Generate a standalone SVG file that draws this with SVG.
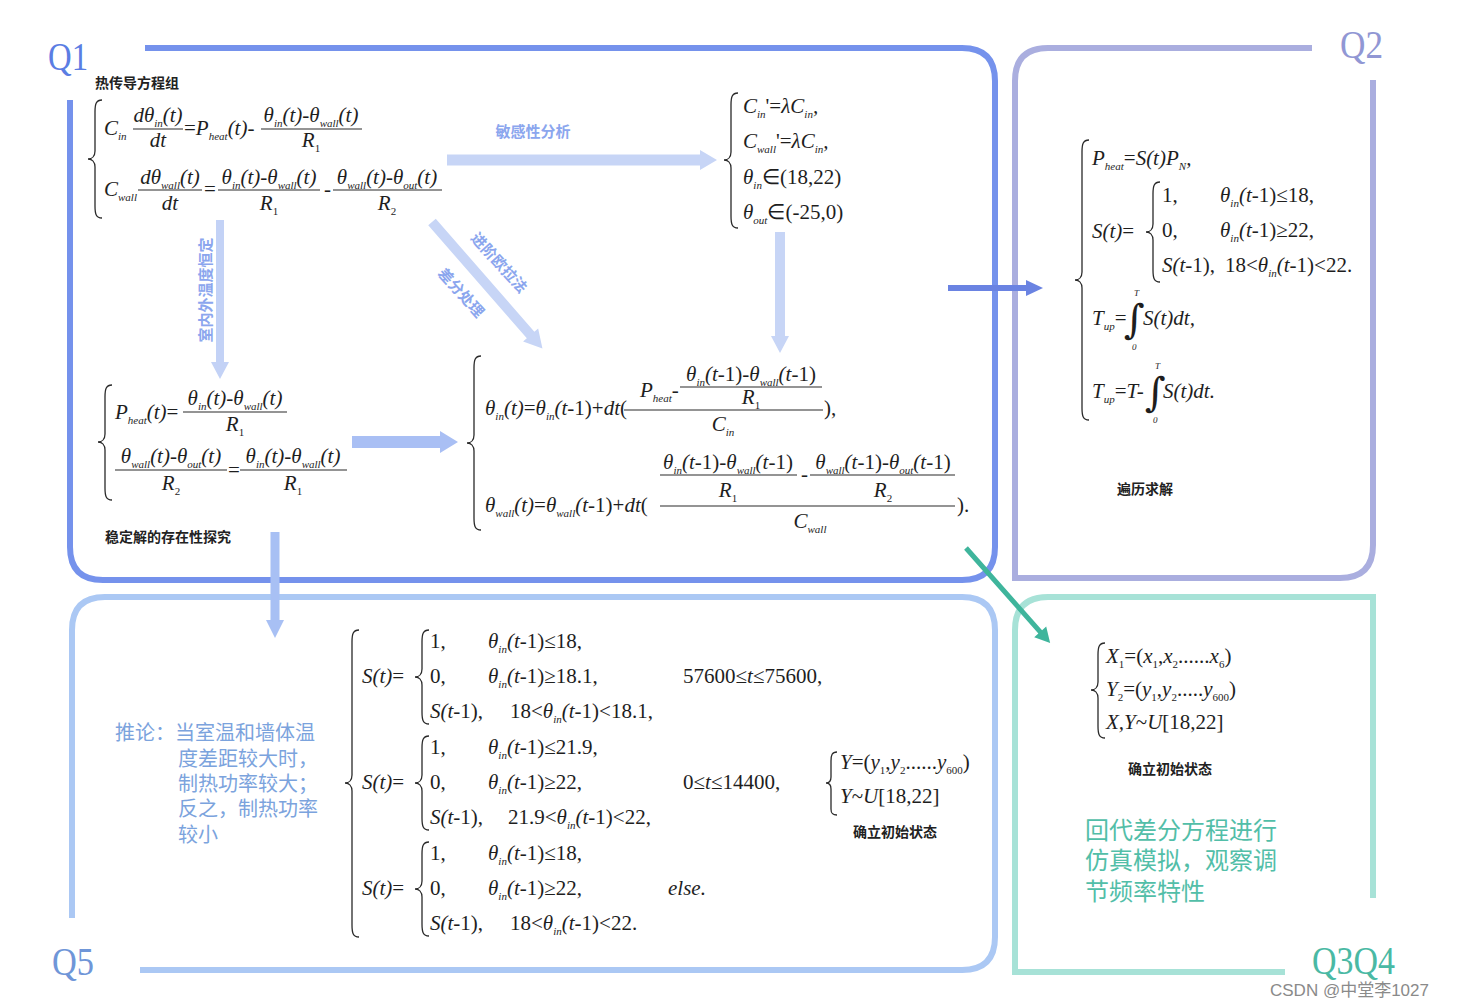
<svg xmlns="http://www.w3.org/2000/svg" width="1457" height="1008" viewBox="0 0 1457 1008">
<defs>
<style>
.m{font-family:"Liberation Serif","Times New Roman",serif;font-size:21px;font-style:italic;fill:#1e1e1e}
.u{font-style:normal}
.sb{font-size:11px}
.lim{font-family:"Liberation Serif",serif;font-size:9px;font-style:italic;fill:#1e1e1e}
.int{font-family:"DejaVu Serif",serif;font-size:40px;fill:#1e1e1e}
.bar{stroke:#2a2a2a;stroke-width:1.2}
.br{fill:none;stroke:#2a2a2a;stroke-width:1.3}
.cn{font-family:"Noto Sans CJK SC","Noto Sans",sans-serif;font-weight:bold;font-size:14px;fill:#222}
.fr{fill:none;stroke-width:6}
.ql{font-family:"Liberation Serif","Times New Roman",serif;font-size:40px}
.al{font-family:"Noto Sans CJK SC",sans-serif;font-weight:bold;font-size:15px;fill:#8ba6ee}
</style>
</defs>
<rect width="1457" height="1008" fill="#ffffff"/>

<g id="frame-q1">
<path class="fr" stroke="#7592ec" d="M145,48 H962 Q995,48 995,81 V547 Q995,580 962,580 H103 Q70,580 70,547 V100"/>
<text class="ql" x="48" y="70" fill="#5b7de3" textLength="40" lengthAdjust="spacingAndGlyphs">Q1</text>
</g>
<g id="frame-q2">
<path class="fr" stroke="#aaaedf" d="M1312,48 H1048 Q1015,48 1015,81 V578 H1340 Q1373,578 1373,545 V80"/>
<text class="ql" x="1340" y="58" fill="#9197d4" textLength="43" lengthAdjust="spacingAndGlyphs">Q2</text>
</g>
<g id="frame-q5">
<path class="fr" stroke="#abc8f4" d="M72,918 V630 Q72,597 105,597 H962 Q995,597 995,630 V937 Q995,970 962,970 H140"/>
<text class="ql" x="52" y="975" fill="#6f96d8" textLength="42" lengthAdjust="spacingAndGlyphs">Q5</text>
</g>
<g id="frame-q3q4">
<path class="fr" stroke="#a7e2d7" d="M1285,972 H1015 V630 Q1015,597 1048,597 H1373 V898"/>
<text class="ql" x="1312" y="974" fill="#4ab9a4" textLength="83" lengthAdjust="spacingAndGlyphs">Q3Q4</text>
</g>

<g id="connectors">
<path d="M447,154.5 H700 V150 L717,160 L700,170 V165.5 H447 Z" fill="#c7d5f6"/>
<path d="M216,220 V362 H211 L220,379 L229,362 H224 V220 Z" fill="#c3d2f6"/>
<path d="M0,-5 H150 V-10 L168,0 L150,10 V5 H0 Z" transform="translate(432,222) rotate(48.9)" fill="#c7d5f6"/>
<path d="M775,232 V336 H771 L780,353 L789,336 H785 V232 Z" fill="#c7d5f6"/>
<path d="M352,436 H440 V431 L458,442 L440,453 V448 H352 Z" fill="#a9bff4"/>
<path d="M948,285 H1026 V280 L1043,288 L1026,296 V291 H948 Z" fill="#6a83e2"/>
<path d="M270.5,532 V620 H266 L275,638 L284,620 H279.5 V532 Z" fill="#a8c0f4"/>
<path d="M0,-2.5 H112 V-8 L127,0 L112,8 V2.5 H0 Z" transform="translate(966,548) rotate(48.5)" fill="#3fb59c"/>
<text class="al" x="533" y="137" text-anchor="middle">敏感性分析</text>
<text class="al" x="0" y="0" text-anchor="middle" dominant-baseline="central" transform="translate(204,290) rotate(-90)" fill="#93aef0">室内外温度恒定</text>
<text class="al" x="0" y="0" text-anchor="middle" dominant-baseline="central" transform="translate(500,262) rotate(48)">进阶欧拉法</text>
<text class="al" x="0" y="0" text-anchor="middle" dominant-baseline="central" transform="translate(462,292) rotate(48)">差分处理</text>
</g>

<g id="node-heat">
<text class="cn" x="95" y="88">热传导方程组</text>
<path class="br" d="M102,100 C96,100 95,104 95,112 L95,151 C95,156 92,159 88,159 C92,159 95,162 95,167 L95,206 C95,214 96,218 102,218"/>
<text class="m" x="104" y="135">C<tspan class="sb" dy="5">in</tspan></text>
<text class="m" x="158" y="122" text-anchor="middle">dθ<tspan class="sb" dy="5">in</tspan><tspan dy="-5">(t)</tspan></text>
<line class="bar" x1="133" y1="129" x2="183" y2="129"/>
<text class="m" x="158" y="147" text-anchor="middle">dt</text>
<text class="m" x="184" y="135"><tspan class="u">=</tspan>P<tspan class="sb" dy="5">heat</tspan><tspan dy="-5">(t)-</tspan></text>
<text class="m" x="311" y="122" text-anchor="middle">θ<tspan class="sb" dy="5">in</tspan><tspan dy="-5">(t)-θ</tspan><tspan class="sb" dy="5">wall</tspan><tspan dy="-5">(t)</tspan></text>
<line class="bar" x1="261" y1="129" x2="362" y2="129"/>
<text class="m" x="311" y="147" text-anchor="middle">R<tspan class="sb u" dy="5">1</tspan></text>
<text class="m" x="104" y="196">C<tspan class="sb" dy="5">wall</tspan></text>
<text class="m" x="170" y="184" text-anchor="middle">dθ<tspan class="sb" dy="5">wall</tspan><tspan dy="-5">(t)</tspan></text>
<line class="bar" x1="138" y1="190" x2="202" y2="190"/>
<text class="m" x="170" y="210" text-anchor="middle">dt</text>
<text class="m u" x="204" y="196">=</text>
<text class="m" x="269" y="184" text-anchor="middle">θ<tspan class="sb" dy="5">in</tspan><tspan dy="-5">(t)-θ</tspan><tspan class="sb" dy="5">wall</tspan><tspan dy="-5">(t)</tspan></text>
<line class="bar" x1="218" y1="190" x2="320" y2="190"/>
<text class="m" x="269" y="210" text-anchor="middle">R<tspan class="sb u" dy="5">1</tspan></text>
<text class="m" x="324" y="196">-</text>
<text class="m" x="387" y="184" text-anchor="middle">θ<tspan class="sb" dy="5">wall</tspan><tspan dy="-5">(t)-θ</tspan><tspan class="sb" dy="5">out</tspan><tspan dy="-5">(t)</tspan></text>
<line class="bar" x1="333" y1="190" x2="442" y2="190"/>
<text class="m" x="387" y="210" text-anchor="middle">R<tspan class="sb u" dy="5">2</tspan></text>
</g>

<g id="node-sensitivity">
<path class="br" d="M738,93 C732,93 731,97 731,105 L731,152 C731,157 728,160 724,160 C728,160 731,163 731,168 L731,216 C731,224 732,228 738,228"/>
<text class="m" x="743" y="113">C<tspan class="sb" dy="5">in</tspan><tspan class="u" dy="-5">'=</tspan>λC<tspan class="sb" dy="5">in</tspan><tspan dy="-5">,</tspan></text>
<text class="m" x="743" y="148">C<tspan class="sb" dy="5">wall</tspan><tspan class="u" dy="-5">'=</tspan>λC<tspan class="sb" dy="5">in</tspan><tspan dy="-5">,</tspan></text>
<text class="m" x="743" y="184">θ<tspan class="sb" dy="5">in</tspan><tspan class="u" dy="-5">∈(18,22)</tspan></text>
<text class="m" x="743" y="219">θ<tspan class="sb" dy="5">out</tspan><tspan class="u" dy="-5">∈(-25,0)</tspan></text>
</g>

<g id="node-steady">
<path class="br" d="M112,385 C106,385 105,389 105,397 L105,434 C105,439 102,442 98,442 C102,442 105,445 105,450 L105,488 C105,496 106,500 112,500"/>
<text class="m" x="115" y="419">P<tspan class="sb" dy="5">heat</tspan><tspan dy="-5">(t)</tspan><tspan class="u">=</tspan></text>
<text class="m" x="235" y="405" text-anchor="middle">θ<tspan class="sb" dy="5">in</tspan><tspan dy="-5">(t)-θ</tspan><tspan class="sb" dy="5">wall</tspan><tspan dy="-5">(t)</tspan></text>
<line class="bar" x1="183" y1="412" x2="287" y2="412"/>
<text class="m" x="235" y="431" text-anchor="middle">R<tspan class="sb u" dy="5">1</tspan></text>
<text class="m" x="171" y="463" text-anchor="middle">θ<tspan class="sb" dy="5">wall</tspan><tspan dy="-5">(t)-θ</tspan><tspan class="sb" dy="5">out</tspan><tspan dy="-5">(t)</tspan></text>
<line class="bar" x1="115" y1="470" x2="227" y2="470"/>
<text class="m" x="171" y="490" text-anchor="middle">R<tspan class="sb u" dy="5">2</tspan></text>
<text class="m u" x="228" y="477">=</text>
<text class="m" x="293" y="463" text-anchor="middle">θ<tspan class="sb" dy="5">in</tspan><tspan dy="-5">(t)-θ</tspan><tspan class="sb" dy="5">wall</tspan><tspan dy="-5">(t)</tspan></text>
<line class="bar" x1="240" y1="470" x2="347" y2="470"/>
<text class="m" x="293" y="490" text-anchor="middle">R<tspan class="sb u" dy="5">1</tspan></text>
<text class="cn" x="105" y="542">稳定解的存在性探究</text>
</g>

<g id="node-difference">
<path class="br" d="M481,356 C475,356 474,360 474,368 L474,435 C474,440 471,443 467,443 C471,443 474,446 474,451 L474,518 C474,526 475,530 481,530"/>
<text class="m" x="485" y="415">θ<tspan class="sb" dy="5">in</tspan><tspan dy="-5">(t)</tspan><tspan class="u">=</tspan>θ<tspan class="sb" dy="5">in</tspan><tspan dy="-5">(t-</tspan><tspan class="u">1)+</tspan>dt<tspan class="u">(</tspan></text>
<text class="m" x="640" y="397">P<tspan class="sb" dy="5">heat</tspan><tspan dy="-5">-</tspan></text>
<text class="m" x="751" y="381" text-anchor="middle">θ<tspan class="sb" dy="5">in</tspan><tspan dy="-5">(t-</tspan><tspan class="u">1)-</tspan>θ<tspan class="sb" dy="5">wall</tspan><tspan dy="-5">(t-</tspan><tspan class="u">1)</tspan></text>
<line class="bar" x1="680" y1="387" x2="822" y2="387"/>
<text class="m" x="751" y="404" text-anchor="middle">R<tspan class="sb u" dy="5">1</tspan></text>
<line class="bar" x1="624" y1="410" x2="823" y2="410"/>
<text class="m" x="723" y="431" text-anchor="middle">C<tspan class="sb" dy="5">in</tspan></text>
<text class="m u" x="824" y="415">),</text>
<text class="m" x="485" y="512">θ<tspan class="sb" dy="5">wall</tspan><tspan dy="-5">(t)</tspan><tspan class="u">=</tspan>θ<tspan class="sb" dy="5">wall</tspan><tspan dy="-5">(t-</tspan><tspan class="u">1)+</tspan>dt<tspan class="u">(</tspan></text>
<text class="m" x="728" y="469" text-anchor="middle">θ<tspan class="sb" dy="5">in</tspan><tspan dy="-5">(t-</tspan><tspan class="u">1)-</tspan>θ<tspan class="sb" dy="5">wall</tspan><tspan dy="-5">(t-</tspan><tspan class="u">1)</tspan></text>
<line class="bar" x1="660" y1="475" x2="797" y2="475"/>
<text class="m" x="728" y="497" text-anchor="middle">R<tspan class="sb u" dy="5">1</tspan></text>
<text class="m" x="801" y="481">-</text>
<text class="m" x="883" y="469" text-anchor="middle">θ<tspan class="sb" dy="5">wall</tspan><tspan dy="-5">(t-</tspan><tspan class="u">1)-</tspan>θ<tspan class="sb" dy="5">out</tspan><tspan dy="-5">(t-</tspan><tspan class="u">1)</tspan></text>
<line class="bar" x1="810" y1="475" x2="955" y2="475"/>
<text class="m" x="883" y="497" text-anchor="middle">R<tspan class="sb u" dy="5">2</tspan></text>
<line class="bar" x1="660" y1="506" x2="955" y2="506"/>
<text class="m" x="810" y="528" text-anchor="middle">C<tspan class="sb" dy="5">wall</tspan></text>
<text class="m u" x="957" y="512">).</text>
</g>

<g id="node-q2">
<path class="br" d="M1089,140 C1083,140 1082,144 1082,152 L1082,272 C1082,277 1079,280 1075,280 C1079,280 1082,283 1082,288 L1082,408 C1082,416 1083,420 1089,420"/>
<text class="m" x="1092" y="165">P<tspan class="sb" dy="5">heat</tspan><tspan class="u" dy="-5">=</tspan>S(t)P<tspan class="sb" dy="5">N</tspan><tspan dy="-5">,</tspan></text>
<text class="m" x="1092" y="238">S(t)<tspan class="u">=</tspan></text>
<path class="br" d="M1160,182 C1154,182 1153,186 1153,194 L1153,224 C1153,229 1150,232 1146,232 C1150,232 1153,235 1153,240 L1153,270 C1153,278 1154,282 1160,282"/>
<text class="m u" x="1162" y="202">1,</text>
<text class="m u" x="1162" y="237">0,</text>
<text class="m" x="1162" y="272">S(t-<tspan class="u">1),</tspan></text>
<text class="m" x="1220" y="202">θ<tspan class="sb" dy="5">in</tspan><tspan dy="-5">(t-</tspan><tspan class="u">1)≤18,</tspan></text>
<text class="m" x="1220" y="237">θ<tspan class="sb" dy="5">in</tspan><tspan dy="-5">(t-</tspan><tspan class="u">1)≥22,</tspan></text>
<text class="m" x="1225" y="272"><tspan class="u">18&lt;</tspan>θ<tspan class="sb" dy="5">in</tspan><tspan dy="-5">(t-</tspan><tspan class="u">1)&lt;22.</tspan></text>
<text class="m" x="1092" y="325">T<tspan class="sb" dy="5">up</tspan><tspan class="u" dy="-5">=</tspan></text>
<text class="int" x="1124" y="333">∫</text>
<text class="lim" x="1134" y="296">T</text>
<text class="lim u" x="1132" y="350">0</text>
<text class="m" x="1143" y="325">S(t)dt,</text>
<text class="m" x="1092" y="398">T<tspan class="sb" dy="5">up</tspan><tspan class="u" dy="-5">=</tspan>T-</text>
<text class="int" x="1145" y="406">∫</text>
<text class="lim" x="1155" y="369">T</text>
<text class="lim u" x="1153" y="423">0</text>
<text class="m" x="1163" y="398">S(t)dt.</text>
<text class="cn" x="1117" y="494">遍历求解</text>
</g>

<g id="node-q5">
<path class="br" d="M359,630 C353,630 352,634 352,642 L352,775 C352,780 349,783 345,783 C349,783 352,786 352,791 L352,925 C352,933 353,937 359,937"/>
<path class="br" d="M429,630 C423,630 422,634 422,642 L422,669 C422,674 419,677 415,677 C419,677 422,680 422,685 L422,712 C422,720 423,724 429,724"/>
<path class="br" d="M429,736 C423,736 422,740 422,748 L422,775 C422,780 419,783 415,783 C419,783 422,786 422,791 L422,818 C422,826 423,830 429,830"/>
<path class="br" d="M429,842 C423,842 422,846 422,854 L422,881 C422,886 419,889 415,889 C419,889 422,892 422,897 L422,924 C422,932 423,936 429,936"/>
<text class="m" x="362" y="683">S(t)<tspan class="u">=</tspan></text>
<text class="m u" x="430" y="648">1,</text>
<text class="m u" x="430" y="683">0,</text>
<text class="m" x="430" y="718">S(t-<tspan class="u">1),</tspan></text>
<text class="m" x="488" y="648">θ<tspan class="sb" dy="5">in</tspan><tspan dy="-5">(t-</tspan><tspan class="u">1)≤18,</tspan></text>
<text class="m" x="488" y="683">θ<tspan class="sb" dy="5">in</tspan><tspan dy="-5">(t-</tspan><tspan class="u">1)≥18.1,</tspan></text>
<text class="m" x="510" y="718"><tspan class="u">18&lt;</tspan>θ<tspan class="sb" dy="5">in</tspan><tspan dy="-5">(t-</tspan><tspan class="u">1)&lt;18.1,</tspan></text>
<text class="m" x="683" y="683"><tspan class="u">57600≤</tspan>t<tspan class="u">≤75600,</tspan></text>
<text class="m" x="362" y="789">S(t)<tspan class="u">=</tspan></text>
<text class="m u" x="430" y="754">1,</text>
<text class="m u" x="430" y="789">0,</text>
<text class="m" x="430" y="824">S(t-<tspan class="u">1),</tspan></text>
<text class="m" x="488" y="754">θ<tspan class="sb" dy="5">in</tspan><tspan dy="-5">(t-</tspan><tspan class="u">1)≤21.9,</tspan></text>
<text class="m" x="488" y="789">θ<tspan class="sb" dy="5">in</tspan><tspan dy="-5">(t-</tspan><tspan class="u">1)≥22,</tspan></text>
<text class="m" x="508" y="824"><tspan class="u">21.9&lt;</tspan>θ<tspan class="sb" dy="5">in</tspan><tspan dy="-5">(t-</tspan><tspan class="u">1)&lt;22,</tspan></text>
<text class="m" x="683" y="789"><tspan class="u">0≤</tspan>t<tspan class="u">≤14400,</tspan></text>
<text class="m" x="362" y="895">S(t)<tspan class="u">=</tspan></text>
<text class="m u" x="430" y="860">1,</text>
<text class="m u" x="430" y="895">0,</text>
<text class="m" x="430" y="930">S(t-<tspan class="u">1),</tspan></text>
<text class="m" x="488" y="860">θ<tspan class="sb" dy="5">in</tspan><tspan dy="-5">(t-</tspan><tspan class="u">1)≤18,</tspan></text>
<text class="m" x="488" y="895">θ<tspan class="sb" dy="5">in</tspan><tspan dy="-5">(t-</tspan><tspan class="u">1)≥22,</tspan></text>
<text class="m" x="510" y="930"><tspan class="u">18&lt;</tspan>θ<tspan class="sb" dy="5">in</tspan><tspan dy="-5">(t-</tspan><tspan class="u">1)&lt;22.</tspan></text>
<text class="m" x="668" y="895">else.</text>
</g>

<g id="node-q5-init">
<path class="br" d="M837,752 C832,752 831,755 831,761 L831,777 C831,781 829,783 826,783 C829,783 831,785 831,789 L831,809 C831,813 832,815 837,815"/>
<text class="m" x="840" y="769" font-size="20">Y<tspan class="u">=(</tspan>y<tspan class="sb u" dy="5">1</tspan><tspan class="u" dy="-5">,</tspan>y<tspan class="sb u" dy="5">2</tspan><tspan class="u" dy="-5">......</tspan>y<tspan class="sb u" dy="5">600</tspan><tspan class="u" dy="-5">)</tspan></text>
<text class="m" x="840" y="803" font-size="20">Y<tspan class="u">~</tspan>U<tspan class="u">[18,22]</tspan></text>
<text class="cn" x="895" y="837" font-size="11" text-anchor="middle">确立初始状态</text>
</g>

<g id="node-q34-init">
<path class="br" d="M1105,643 C1099,643 1098,647 1098,655 L1098,682 C1098,687 1095,690 1091,690 C1095,690 1098,693 1098,698 L1098,726 C1098,734 1099,738 1105,738"/>
<text class="m" x="1106" y="663">X<tspan class="sb u" dy="5">1</tspan><tspan class="u" dy="-5">=(</tspan>x<tspan class="sb u" dy="5">1</tspan><tspan class="u" dy="-5">,</tspan>x<tspan class="sb u" dy="5">2</tspan><tspan class="u" dy="-5">......</tspan>x<tspan class="sb u" dy="5">6</tspan><tspan class="u" dy="-5">)</tspan></text>
<text class="m" x="1106" y="696">Y<tspan class="sb u" dy="5">2</tspan><tspan class="u" dy="-5">=(</tspan>y<tspan class="sb u" dy="5">1</tspan><tspan class="u" dy="-5">,</tspan>y<tspan class="sb u" dy="5">2</tspan><tspan class="u" dy="-5">.....</tspan>y<tspan class="sb u" dy="5">600</tspan><tspan class="u" dy="-5">)</tspan></text>
<text class="m" x="1106" y="729">X,Y<tspan class="u">~</tspan>U<tspan class="u">[18,22]</tspan></text>
<text class="cn" x="1170" y="774" font-size="11" text-anchor="middle">确立初始状态</text>
</g>

<g id="node-q5-note" font-family="Noto Sans CJK SC,sans-serif" font-size="20" fill="#7ba3dd">
<text x="115" y="740">推论：当室温和墙体温</text>
<text x="178" y="766">度差距较大时，</text>
<text x="178" y="791">制热功率较大；</text>
<text x="178" y="816">反之，制热功率</text>
<text x="178" y="842">较小</text>
</g>

<g id="node-q34-note" font-family="Noto Sans CJK SC,sans-serif" font-size="24" fill="#52bea8">
<text x="1085" y="839">回代差分方程进行</text>
<text x="1085" y="869">仿真模拟，观察调</text>
<text x="1085" y="900">节频率特性</text>
</g>

<text x="1270" y="996" font-family="Liberation Sans,Noto Sans CJK SC,sans-serif" font-size="17" fill="#8a8a8a">CSDN @中堂李1027</text>
</svg>
